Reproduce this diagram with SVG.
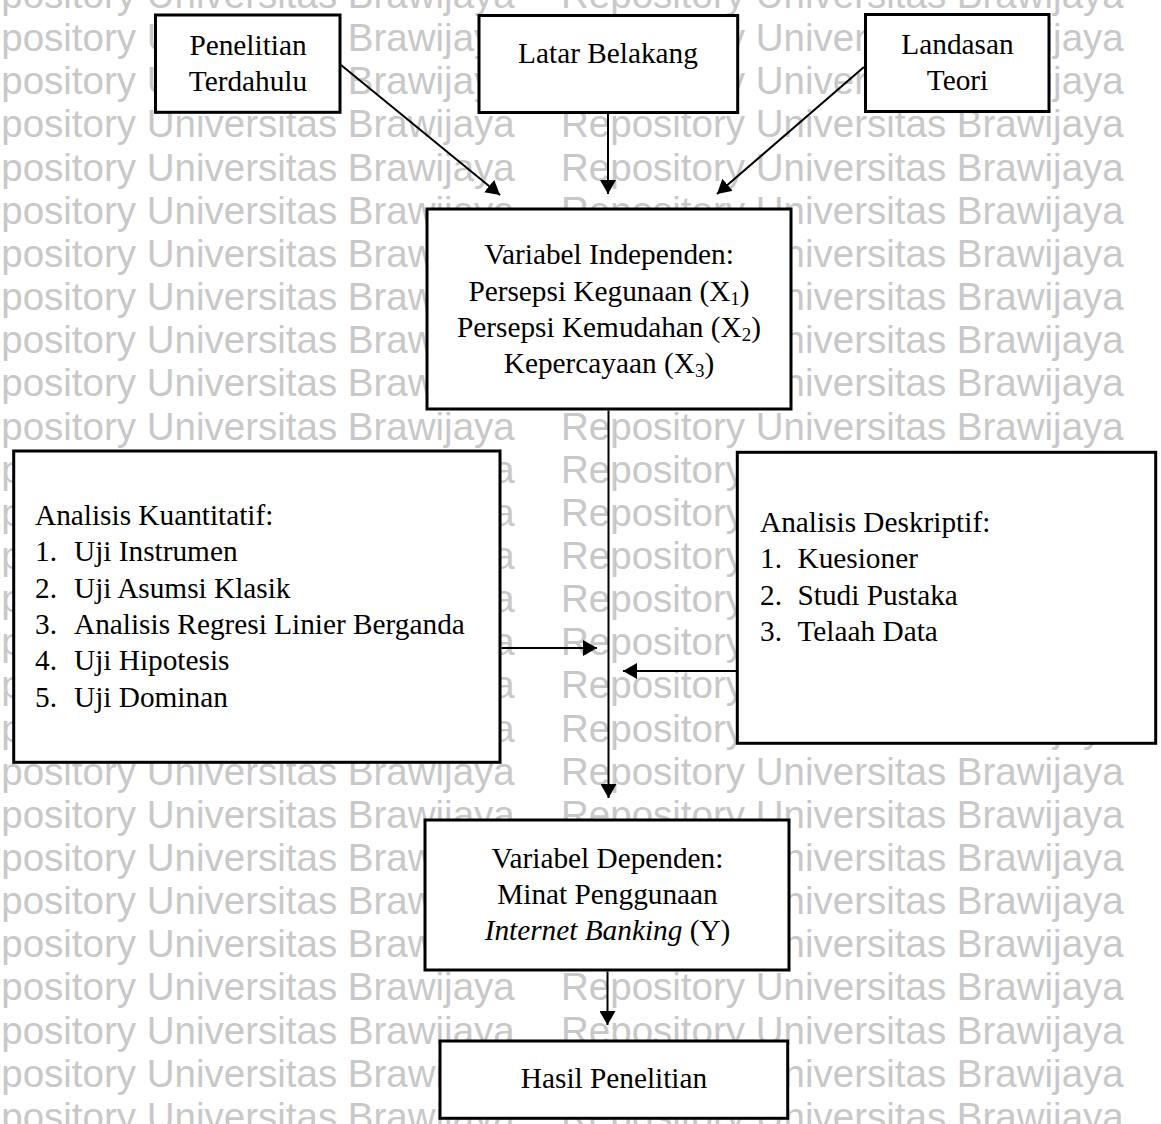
<svg xmlns="http://www.w3.org/2000/svg" width="1161" height="1124" viewBox="0 0 1161 1124">
<style>
.wm { font-family: "Liberation Sans", Arial, sans-serif; font-size: 38.5px; fill: #c8c8c8; }
.box { fill: #ffffff; stroke: #000000; stroke-width: 3; }
.t { font-family: "Liberation Serif", "Times New Roman", serif; font-size: 29.3px; fill: #000000; }
.c { text-anchor: middle; }
.conn { stroke: #000000; stroke-width: 2; fill: none; marker-end: url(#ah); }
.sub { font-size: 19px; }
</style>
<defs>
<marker id="ah" markerUnits="userSpaceOnUse" viewBox="0 0 14 16" markerWidth="14" markerHeight="16" refX="14" refY="8" orient="auto">
<path d="M0,0 L14,8 L0,16 z" fill="#000000"/>
</marker>
</defs>
<rect x="0" y="0" width="1161" height="1124" fill="#ffffff"/>
<g id="watermark">
<text class="wm" y="8"><tspan x="-48">Repository Universitas Brawijaya</tspan><tspan x="561">Repository Universitas Brawijaya</tspan></text>
<text class="wm" y="51.15"><tspan x="-48">Repository Universitas Brawijaya</tspan><tspan x="561">Repository Universitas Brawijaya</tspan></text>
<text class="wm" y="94.3"><tspan x="-48">Repository Universitas Brawijaya</tspan><tspan x="561">Repository Universitas Brawijaya</tspan></text>
<text class="wm" y="137.45"><tspan x="-48">Repository Universitas Brawijaya</tspan><tspan x="561">Repository Universitas Brawijaya</tspan></text>
<text class="wm" y="180.6"><tspan x="-48">Repository Universitas Brawijaya</tspan><tspan x="561">Repository Universitas Brawijaya</tspan></text>
<text class="wm" y="223.75"><tspan x="-48">Repository Universitas Brawijaya</tspan><tspan x="561">Repository Universitas Brawijaya</tspan></text>
<text class="wm" y="266.9"><tspan x="-48">Repository Universitas Brawijaya</tspan><tspan x="561">Repository Universitas Brawijaya</tspan></text>
<text class="wm" y="310.05"><tspan x="-48">Repository Universitas Brawijaya</tspan><tspan x="561">Repository Universitas Brawijaya</tspan></text>
<text class="wm" y="353.2"><tspan x="-48">Repository Universitas Brawijaya</tspan><tspan x="561">Repository Universitas Brawijaya</tspan></text>
<text class="wm" y="396.35"><tspan x="-48">Repository Universitas Brawijaya</tspan><tspan x="561">Repository Universitas Brawijaya</tspan></text>
<text class="wm" y="439.5"><tspan x="-48">Repository Universitas Brawijaya</tspan><tspan x="561">Repository Universitas Brawijaya</tspan></text>
<text class="wm" y="482.65"><tspan x="-48">Repository Universitas Brawijaya</tspan><tspan x="561">Repository Universitas Brawijaya</tspan></text>
<text class="wm" y="525.8"><tspan x="-48">Repository Universitas Brawijaya</tspan><tspan x="561">Repository Universitas Brawijaya</tspan></text>
<text class="wm" y="568.95"><tspan x="-48">Repository Universitas Brawijaya</tspan><tspan x="561">Repository Universitas Brawijaya</tspan></text>
<text class="wm" y="612.1"><tspan x="-48">Repository Universitas Brawijaya</tspan><tspan x="561">Repository Universitas Brawijaya</tspan></text>
<text class="wm" y="655.25"><tspan x="-48">Repository Universitas Brawijaya</tspan><tspan x="561">Repository Universitas Brawijaya</tspan></text>
<text class="wm" y="698.4"><tspan x="-48">Repository Universitas Brawijaya</tspan><tspan x="561">Repository Universitas Brawijaya</tspan></text>
<text class="wm" y="741.55"><tspan x="-48">Repository Universitas Brawijaya</tspan><tspan x="561">Repository Universitas Brawijaya</tspan></text>
<text class="wm" y="784.7"><tspan x="-48">Repository Universitas Brawijaya</tspan><tspan x="561">Repository Universitas Brawijaya</tspan></text>
<text class="wm" y="827.85"><tspan x="-48">Repository Universitas Brawijaya</tspan><tspan x="561">Repository Universitas Brawijaya</tspan></text>
<text class="wm" y="871"><tspan x="-48">Repository Universitas Brawijaya</tspan><tspan x="561">Repository Universitas Brawijaya</tspan></text>
<text class="wm" y="914.15"><tspan x="-48">Repository Universitas Brawijaya</tspan><tspan x="561">Repository Universitas Brawijaya</tspan></text>
<text class="wm" y="957.3"><tspan x="-48">Repository Universitas Brawijaya</tspan><tspan x="561">Repository Universitas Brawijaya</tspan></text>
<text class="wm" y="1000.45"><tspan x="-48">Repository Universitas Brawijaya</tspan><tspan x="561">Repository Universitas Brawijaya</tspan></text>
<text class="wm" y="1043.6"><tspan x="-48">Repository Universitas Brawijaya</tspan><tspan x="561">Repository Universitas Brawijaya</tspan></text>
<text class="wm" y="1086.75"><tspan x="-48">Repository Universitas Brawijaya</tspan><tspan x="561">Repository Universitas Brawijaya</tspan></text>
<text class="wm" y="1129.9"><tspan x="-48">Repository Universitas Brawijaya</tspan><tspan x="561">Repository Universitas Brawijaya</tspan></text>
</g>
<g id="penelitian-terdahulu">
<rect class="box" x="155.5" y="15" width="184.5" height="97.3"/>
<text class="t c" x="248" y="55">Penelitian</text>
<text class="t c" x="248" y="91">Terdahulu</text>
</g>
<g id="latar-belakang">
<rect class="box" x="479" y="15.5" width="258.7" height="97"/>
<text class="t c" x="608" y="63">Latar Belakang</text>
</g>
<g id="landasan-teori">
<rect class="box" x="865.5" y="14.5" width="183.5" height="97"/>
<text class="t c" x="957.5" y="54">Landasan</text>
<text class="t c" x="957.5" y="90">Teori</text>
</g>
<g id="variabel-independen">
<rect class="box" x="427" y="209" width="364" height="200"/>
<text class="t c" x="609" y="264">Variabel Independen:</text>
<text class="t c" x="609" y="300.5">Persepsi Kegunaan (X<tspan class="sub" dy="4">1</tspan><tspan dy="-4">)</tspan></text>
<text class="t c" x="609" y="336.5">Persepsi Kemudahan (X<tspan class="sub" dy="4">2</tspan><tspan dy="-4">)</tspan></text>
<text class="t c" x="609" y="372.5">Kepercayaan (X<tspan class="sub" dy="4">3</tspan><tspan dy="-4">)</tspan></text>
</g>
<g id="analisis-kuantitatif">
<rect class="box" x="13.7" y="451" width="486.3" height="311.3"/>
<text class="t" x="35" y="525">Analisis Kuantitatif:</text>
<text class="t" y="561.3"><tspan x="35">1.</tspan><tspan x="74">Uji Instrumen</tspan></text>
<text class="t" y="597.6"><tspan x="35">2.</tspan><tspan x="74">Uji Asumsi Klasik</tspan></text>
<text class="t" y="633.9"><tspan x="35">3.</tspan><tspan x="74">Analisis Regresi Linier Berganda</tspan></text>
<text class="t" y="670.2"><tspan x="35">4.</tspan><tspan x="74">Uji Hipotesis</tspan></text>
<text class="t" y="706.5"><tspan x="35">5.</tspan><tspan x="74">Uji Dominan</tspan></text>
</g>
<g id="analisis-deskriptif">
<rect class="box" x="737.3" y="452.3" width="418.4" height="291"/>
<text class="t" x="760" y="532">Analisis Deskriptif:</text>
<text class="t" y="568.4"><tspan x="760">1.</tspan><tspan x="797.5">Kuesioner</tspan></text>
<text class="t" y="604.8"><tspan x="760">2.</tspan><tspan x="797.5">Studi Pustaka</tspan></text>
<text class="t" y="641.2"><tspan x="760">3.</tspan><tspan x="797.5">Telaah Data</tspan></text>
</g>
<g id="variabel-dependen">
<rect class="box" x="425" y="820" width="364" height="150"/>
<text class="t c" x="607.5" y="868">Variabel Dependen:</text>
<text class="t c" x="607.5" y="904">Minat Penggunaan</text>
<text class="t c" x="607.5" y="940"><tspan font-style="italic">Internet Banking</tspan> (Y)</text>
</g>
<g id="hasil-penelitian">
<rect class="box" x="440" y="1041" width="347.7" height="77.3"/>
<text class="t c" x="614" y="1088">Hasil Penelitian</text>
</g>
<g id="connectors">
<line class="conn" x1="341" y1="65" x2="500" y2="195"/>
<line class="conn" x1="608" y1="114" x2="608" y2="194"/>
<line class="conn" x1="864" y1="67" x2="717" y2="194"/>
<line class="conn" x1="608.5" y1="410.5" x2="608.5" y2="798"/>
<line class="conn" x1="501.5" y1="648" x2="597" y2="648"/>
<line class="conn" x1="736" y1="671" x2="623" y2="671"/>
<line class="conn" x1="607.5" y1="971.5" x2="607.5" y2="1025"/>
</g>
</svg>
